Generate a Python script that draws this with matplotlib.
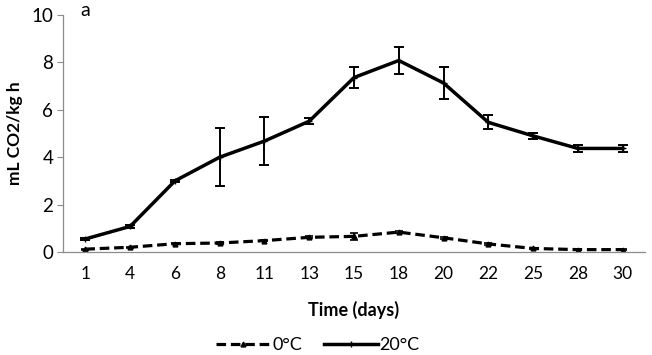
import matplotlib
matplotlib.use("Agg")
import matplotlib.pyplot as plt
from matplotlib.lines import Line2D
import numpy as np

plt.rcParams['font.family'] = ['Lato', 'DejaVu Sans']

days = ["1", "4", "6", "8", "11", "13", "15", "18", "20", "22", "25", "28", "30"]
t20 = [0.55, 1.08, 3.0, 4.0, 4.68, 5.52, 7.36, 8.08, 7.13, 5.47, 4.9, 4.37, 4.37]
t20_err = [0.03, 0.05, 0.05, 1.23, 1.0, 0.12, 0.46, 0.58, 0.67, 0.3, 0.14, 0.14, 0.14]
t0 = [0.12, 0.2, 0.35, 0.38, 0.48, 0.62, 0.66, 0.84, 0.6, 0.34, 0.15, 0.1, 0.1]
t0_err = [0.02, 0.02, 0.03, 0.03, 0.03, 0.05, 0.15, 0.05, 0.05, 0.03, 0.02, 0.02, 0.02]

fig = plt.figure(figsize=(6.52, 3.55), dpi=100)
ax = fig.add_axes([63/652, 1-252/355, (645-63)/652, (252-15)/355])

x = np.arange(len(days))
ax.errorbar(x, t0, yerr=t0_err, color='black', lw=2.3, ls=(0, (3, 1.5)),
            marker='^', ms=3.5, capsize=3, elinewidth=1.2, capthick=1.2)
ax.errorbar(x, t20, yerr=t20_err, color='black', lw=2.5, ls='-',
            marker='+', ms=4, capsize=3.5, elinewidth=1.4, capthick=1.4)

ax.set_xlim(-0.5, len(days) - 0.5)
ax.set_ylim(0, 10)
ax.set_yticks([0, 2, 4, 6, 8, 10])
ax.set_xticks(x)
ax.set_xticklabels(days)
for s in ['top', 'right']:
    ax.spines[s].set_visible(False)
for s in ['left', 'bottom']:
    ax.spines[s].set_color('#8c8c8c')
    ax.spines[s].set_linewidth(0.9)
ax.tick_params(axis='y', length=4, color='#8c8c8c', labelsize=13.5, pad=3)
ax.tick_params(axis='x', length=0, labelsize=12.5, pad=10)
ax.set_xlabel('Time (days)', fontsize=13, fontweight='bold', labelpad=14)
ax.set_ylabel('mL CO2/kg h', fontsize=12.5, fontweight='bold', labelpad=6)
fig.text(80/652, 1-11/355, 'a', fontsize=14, va='center', ha='left')

handles = [
    Line2D([], [], color='black', lw=2.3, ls=(0, (3, 1.5)), marker='^', ms=3.5),
    Line2D([], [], color='black', lw=2.5, ls='-', marker='+', ms=4),
]
fig.legend(handles, ['0°C', '20°C'], loc='center', bbox_to_anchor=(318/652, 1-345/355),
           ncol=2, frameon=False, fontsize=13, handlelength=3.0, columnspacing=1.2,
           handletextpad=0.1, numpoints=1)

fig.savefig('out.png', dpi=100)
